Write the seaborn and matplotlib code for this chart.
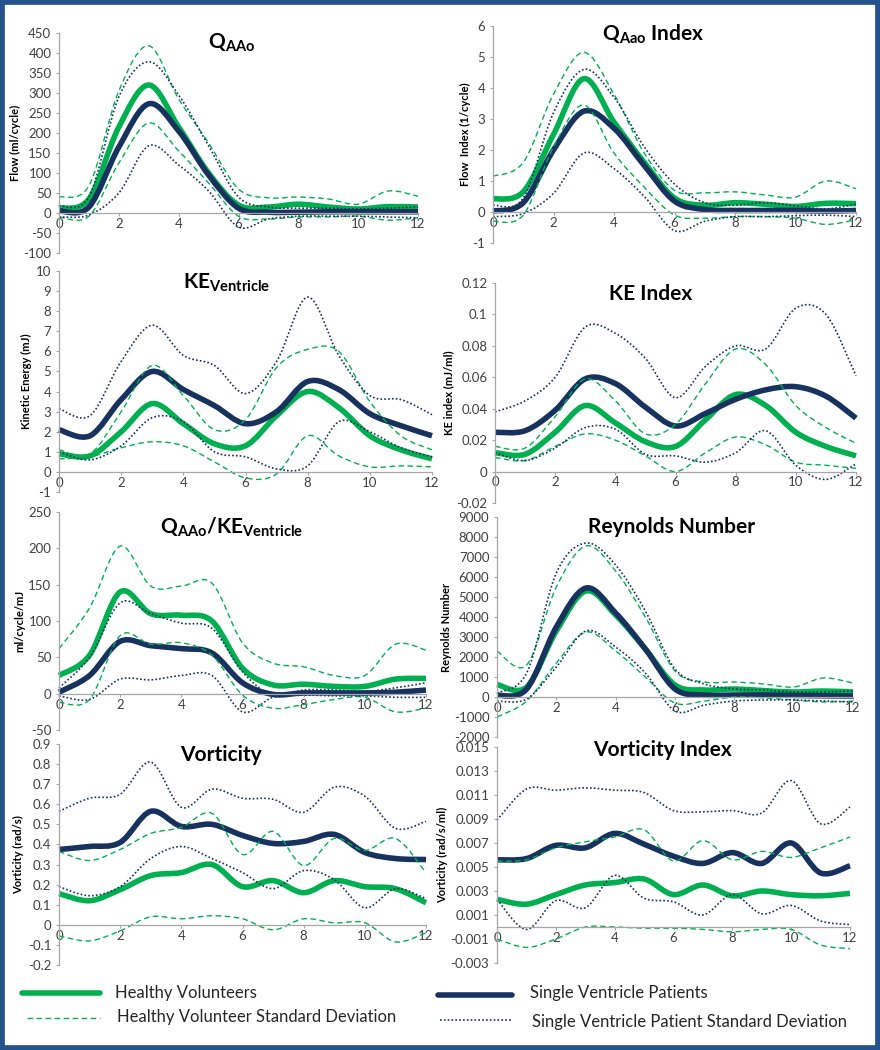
import numpy as np
import matplotlib
matplotlib.use("Agg")
import matplotlib.pyplot as plt
import seaborn as sns
from matplotlib.path import Path
from matplotlib.patches import PathPatch, Rectangle
from matplotlib.lines import Line2D

# Setup
sns.set_theme(style="white")
plt.rcParams["font.family"] = ["Lato", "DejaVu Sans"]
plt.rcParams["mathtext.fontset"] = "custom"
plt.rcParams["mathtext.rm"] = "Lato"
plt.rcParams["mathtext.bf"] = "Lato:bold"
plt.rcParams["mathtext.it"] = "Lato:italic"

GREEN = "#00B050"
NAVY = "#17325E"
BORDER = "#25548C"
AXIS_GRAY = "#A6A6A6"
TEXT_GRAY = "#404040"

W, H = 880, 1050
time = list(range(13))

# --------- DATA (one value per time step) ---------

# Q_AAo
qaao_hv = [12, 35, 215, 320, 215, 100, 20, 15, 22, 15, 10, 16, 15]
qaao_hv_hi = [40, 68, 305, 418, 285, 175, 60, 38, 40, 35, 22, 55, 42]
qaao_hv_lo = [-10, -8, 125, 225, 155, 75, -8, -15, -10, -10, -8, -18, -12]
qaao_sv = [5, 15, 165, 273, 205, 95, 12, 2, 2, 3, 3, 3, 3]
qaao_sv_hi = [18, 40, 290, 378, 295, 168, 40, 15, 12, 12, 10, 12, 15]
qaao_sv_lo = [-10, -5, 50, 168, 120, 55, -35, -15, -8, -8, -8, -10, -12]

# Q_Aao index
qidx_hv = [0.42, 0.65, 2.5, 4.3, 2.9, 1.6, 0.45, 0.22, 0.3, 0.25, 0.18, 0.28, 0.27]
qidx_hv_hi = [1.15, 1.6, 3.8, 5.15, 3.8, 1.9, 0.7, 0.62, 0.65, 0.55, 0.48, 1.0, 0.75]
qidx_hv_lo = [-0.3, -0.1, 2.1, 3.45, 1.9, 0.8, -0.1, -0.2, -0.15, -0.15, -0.2, -0.4, -0.25]
qidx_sv = [0.03, 0.3, 2.0, 3.25, 2.7, 1.5, 0.35, 0.08, 0.05, 0.05, 0.05, 0.03, 0.05]
qidx_sv_hi = [0.22, 0.45, 3.2, 4.6, 3.7, 2.1, 0.9, 0.3, 0.22, 0.3, 0.2, 0.1, 0.25]
qidx_sv_lo = [-0.15, -0.05, 0.6, 1.9, 1.4, 0.5, -0.6, -0.3, -0.15, -0.15, -0.12, -0.1, -0.15]

# KE ventricle
ke_hv = [0.9, 0.8, 2.0, 3.4, 2.4, 1.4, 1.3, 2.8, 4.0, 3.2, 1.8, 1.1, 0.65]
ke_hv_hi = [1.1, 0.9, 3.0, 5.3, 3.8, 2.1, 2.6, 5.2, 6.1, 6.0, 3.5, 1.8, 1.1]
ke_hv_lo = [0.65, 0.75, 1.2, 1.5, 1.3, 0.5, -0.3, -0.1, 1.8, 0.8, 0.25, 0.3, 0.25]
ke_sv = [2.1, 1.8, 3.6, 5.0, 4.1, 3.3, 2.4, 3.0, 4.5, 4.1, 2.9, 2.3, 1.8]
ke_sv_hi = [3.15, 2.8, 5.5, 7.3, 5.8, 5.3, 3.9, 5.5, 8.7, 5.8, 3.8, 3.6, 2.85]
ke_sv_lo = [1.0, 0.6, 1.3, 2.7, 2.5, 1.0, 0.75, 0.15, 0.3, 2.5, 2.0, 1.2, 0.75]

# KE index
kei_hv = [0.012, 0.011, 0.025, 0.042, 0.031, 0.019, 0.016, 0.033, 0.049, 0.042, 0.025, 0.016, 0.010]
kei_hv_hi = [0.016, 0.015, 0.035, 0.059, 0.045, 0.024, 0.030, 0.056, 0.078, 0.068, 0.042, 0.028, 0.018]
kei_hv_lo = [0.009, 0.007, 0.016, 0.024, 0.020, 0.010, 0.000, 0.012, 0.022, 0.017, 0.006, 0.004, 0.002]
kei_sv = [0.025, 0.026, 0.039, 0.059, 0.056, 0.041, 0.029, 0.037, 0.046, 0.052, 0.054, 0.048, 0.034]
kei_sv_hi = [0.038, 0.045, 0.060, 0.092, 0.088, 0.072, 0.047, 0.067, 0.080, 0.078, 0.104, 0.100, 0.061]
kei_sv_lo = [0.012, 0.007, 0.015, 0.028, 0.027, 0.011, 0.010, 0.006, 0.012, 0.026, 0.004, -0.005, 0.005]

# Q_AAo / KE_Ventricle
qke_hv = [25, 53, 140, 110, 108, 100, 35, 12, 13, 10, 10, 20, 21]
qke_hv_hi = [62, 118, 203, 148, 148, 152, 70, 42, 37, 25, 25, 68, 60]
qke_hv_lo = [-12, -8, 80, 68, 70, 53, -2, -20, -15, -8, -5, -25, -20]
qke_sv = [2, 25, 72, 66, 62, 56, 15, -1, 1, 1, 1, 2, 5]
qke_sv_hi = [8, 50, 125, 110, 97, 90, 30, -3, 5, 5, 3, 8, 15]
qke_sv_lo = [-3, -8, 20, 19, 25, 25, -25, -5, -2, -3, -3, -5, -5]

# Reynolds number
re_hv = [620, 500, 3300, 5300, 4100, 2400, 600, 350, 400, 320, 250, 300, 250]
re_hv_hi = [2300, 1600, 5500, 7550, 6300, 4000, 1300, 750, 750, 650, 500, 950, 700]
re_hv_lo = [-1000, -200, 1700, 3250, 2300, 1000, -300, -200, 0, -50, -150, -250, -200]
re_sv = [80, 400, 3500, 5450, 4200, 2400, 400, 100, 100, 100, 80, 60, 50]
re_sv_hi = [200, 1200, 6200, 7700, 6600, 4300, 1400, 650, 400, 350, 250, 250, 300]
re_sv_lo = [-200, -100, 1500, 3300, 2500, 1200, -700, -400, -200, -150, -150, -200, -250]

# Vorticity
vort_hv = [0.155, 0.12, 0.175, 0.245, 0.26, 0.30, 0.19, 0.22, 0.16, 0.22, 0.19, 0.18, 0.11]
vort_hv_hi = [0.365, 0.32, 0.375, 0.455, 0.485, 0.555, 0.35, 0.465, 0.295, 0.43, 0.37, 0.43, 0.26]
vort_hv_lo = [-0.055, -0.08, -0.03, 0.04, 0.03, 0.045, 0.03, -0.025, 0.03, 0.01, 0.01, -0.085, -0.04]
vort_sv = [0.375, 0.39, 0.41, 0.565, 0.49, 0.50, 0.445, 0.405, 0.415, 0.45, 0.36, 0.33, 0.325]
vort_sv_hi = [0.565, 0.63, 0.65, 0.81, 0.585, 0.675, 0.63, 0.625, 0.56, 0.685, 0.64, 0.48, 0.515]
vort_sv_lo = [0.19, 0.145, 0.19, 0.33, 0.39, 0.33, 0.26, 0.18, 0.27, 0.225, 0.085, 0.18, 0.13]

# Vorticity index
vidx_hv = [0.0023, 0.0019, 0.0027, 0.0035, 0.0037, 0.0040, 0.0027, 0.0035, 0.0026, 0.0030, 0.0027, 0.0026, 0.0028]
vidx_hv_hi = [0.0055, 0.0056, 0.0066, 0.0071, 0.0075, 0.0081, 0.0055, 0.0072, 0.0056, 0.0063, 0.0058, 0.0066, 0.0075]
vidx_hv_lo = [-0.0010, -0.0017, -0.0010, 0.0, 0.0, -0.0001, -0.0001, -0.0002, -0.0004, -0.0002, -0.0002, -0.0015, -0.0018]
vidx_sv = [0.0056, 0.0057, 0.0068, 0.0066, 0.0078, 0.0069, 0.0059, 0.0053, 0.0062, 0.0053, 0.0070, 0.0045, 0.0051]
vidx_sv_hi = [0.0089, 0.0115, 0.0114, 0.0116, 0.0114, 0.0112, 0.0097, 0.0096, 0.0097, 0.0095, 0.0122, 0.0086, 0.0100]
vidx_sv_lo = [0.0023, -0.0002, 0.0022, 0.0016, 0.0043, 0.0024, 0.0021, 0.0010, 0.0027, 0.0011, 0.0018, 0.0005, 0.0002]

# --------- PANEL LAYOUT ---------
# box = (left, top, right, bottom) of the plot area in pixels
panels = [
    dict(title=r"$\mathbf{Q_{AAo}}$", ylabel="Flow (ml/cycle)",
         ylim=(-100, 450), ystep=50, box=(59, 33, 418, 253), tpos=(0.48, 0.955), lx=15,
         data=(qaao_hv, qaao_hv_hi, qaao_hv_lo, qaao_sv, qaao_sv_hi, qaao_sv_lo)),
    dict(title=r"$\mathbf{Q_{Aao}}$ Index", ylabel="Flow  Index (1/cycle)",
         ylim=(-1, 6), ystep=1, box=(493, 26, 856, 243), tpos=(0.44, 0.96), lx=465,
         data=(qidx_hv, qidx_hv_hi, qidx_hv_lo, qidx_sv, qidx_sv_hi, qidx_sv_lo)),
    dict(title=r"$\mathbf{KE_{Ventricle}}$", ylabel="Kinetic Energy (mJ)",
         ylim=(-1, 10), ystep=1, box=(59, 271, 432, 492), tpos=(0.45, 0.945), lx=26,
         data=(ke_hv, ke_hv_hi, ke_hv_lo, ke_sv, ke_sv_hi, ke_sv_lo)),
    dict(title="KE Index", ylabel="KE index (mJ/ml)",
         ylim=(-0.02, 0.12), ystep=0.02, box=(495, 283, 856, 503), tpos=(0.43, 0.95), lx=449,
         data=(kei_hv, kei_hv_hi, kei_hv_lo, kei_sv, kei_sv_hi, kei_sv_lo)),
    dict(title=r"$\mathbf{Q_{AAo}/KE_{Ventricle}}$", ylabel="ml/cycle/mJ",
         ylim=(-50, 250), ystep=50, box=(59, 512, 426, 730), tpos=(0.47, 0.93), lx=20,
         data=(qke_hv, qke_hv_hi, qke_hv_lo, qke_sv, qke_sv_hi, qke_sv_lo)),
    dict(title="Reynolds Number", ylabel="Reynolds Number",
         ylim=(-2000, 9000), ystep=1000, box=(497, 517, 853, 737), tpos=(0.49, 0.955), lx=446,
         data=(re_hv, re_hv_hi, re_hv_lo, re_sv, re_sv_hi, re_sv_lo)),
    dict(title="Vorticity", ylabel="Vorticity (rad/s)",
         ylim=(-0.2, 0.9), ystep=0.1, box=(59, 744, 426, 965), tpos=(0.44, 0.95), lx=19,
         data=(vort_hv, vort_hv_hi, vort_hv_lo, vort_sv, vort_sv_hi, vort_sv_lo)),
    dict(title="Vorticity Index", ylabel="Vorticity (rad/s/ml)",
         ylim=(-0.003, 0.015), ystep=0.002, box=(497, 747, 850, 963), tpos=(0.47, 0.985), lx=443,
         data=(vidx_hv, vidx_hv_hi, vidx_hv_lo, vidx_sv, vidx_sv_hi, vidx_sv_lo)),
]

styles = [
    dict(color=GREEN, lw=4.0, ls="-"),
    dict(color=GREEN, lw=1.0, ls=(0, (4, 2.5))),
    dict(color=GREEN, lw=1.0, ls=(0, (4, 2.5))),
    dict(color=NAVY, lw=4.0, ls="-"),
    dict(color=NAVY, lw=1.2, ls=(0, (1, 1.3))),
    dict(color=NAVY, lw=1.2, ls=(0, (1, 1.3))),
]
draw_order = [0, 3, 1, 2, 4, 5]


def smooth_path(x, y):
    # Excel-style smoothed line: cubic Bezier segments through the data points
    x = np.asarray(x, float)
    y = np.asarray(y, float)
    px = np.concatenate([[x[0]], x, [x[-1]]])
    py = np.concatenate([[y[0]], y, [y[-1]]])
    verts = [(x[0], y[0])]
    codes = [Path.MOVETO]
    for i in range(1, len(x)):
        c1 = (px[i] + (px[i + 1] - px[i - 1]) / 6, py[i] + (py[i + 1] - py[i - 1]) / 6)
        c2 = (px[i + 1] - (px[i + 2] - px[i]) / 6, py[i + 1] - (py[i + 2] - py[i]) / 6)
        verts += [c1, c2, (px[i + 1], py[i + 1])]
        codes += [Path.CURVE4] * 3
    return Path(verts, codes)


fig = plt.figure(figsize=(W / 100, H / 100), dpi=100)
fig.patch.set_facecolor("white")

for p in panels:
    l, t, r, b = p["box"]
    ax = fig.add_axes([l / W, 1 - b / H, (r - l) / W, (b - t) / H])
    ax.patch.set_alpha(0)

    for k in draw_order:
        st = styles[k]
        patch = PathPatch(smooth_path(time, p["data"][k]), fill=False, edgecolor=st["color"],
                          linewidth=st["lw"], linestyle=st["ls"],
                          capstyle="butt", joinstyle="round", clip_on=False)
        ax.add_patch(patch)

    lo, hi = p["ylim"]
    n = int(round((hi - lo) / p["ystep"]))
    yt = [round(lo + i * p["ystep"], 6) for i in range(n + 1)]
    ax.set_xlim(0, 12)
    ax.set_ylim(lo, hi)
    ax.set_xticks(range(0, 13, 2))
    ax.set_yticks(yt)
    ax.set_yticklabels([f"{v:g}" for v in yt])

    sns.despine(ax=ax, top=True, right=True)
    ax.spines["bottom"].set_position(("data", 0))
    for s in ["left", "bottom"]:
        ax.spines[s].set_color(AXIS_GRAY)
        ax.spines[s].set_linewidth(0.9)
    ax.tick_params(axis="both", which="major", direction="out", length=2.5, width=0.8,
                   color=AXIS_GRAY, labelcolor=TEXT_GRAY, labelsize=9.5, pad=3,
                   left=True, bottom=True)
    ax.tick_params(axis="x", pad=1)

    ax.text(p["tpos"][0], p["tpos"][1], p["title"], transform=ax.transAxes,
            ha="center", va="center", fontsize=15, fontweight="bold", color="black")
    fig.text(p["lx"] / W, 1 - (t + b) / 2 / H, p["ylabel"], rotation=90,
             ha="center", va="center", fontsize=8, fontweight="bold", color="black")

# --------- LEGEND ---------
legend_items = [
    ("Healthy Volunteers", styles[0], (22, 100, 993), (115, 993)),
    ("Healthy Volunteer Standard Deviation", styles[1], (27, 100, 1018), (117, 1017)),
    ("Single Ventricle Patients", styles[3], (438, 512, 995), (530, 993)),
    ("Single Ventricle Patient Standard Deviation", styles[4], (440, 512, 1020), (532, 1022)),
]
for label, st, (x0, x1, ly), (tx, ty) in legend_items:
    fig.add_artist(Line2D([x0 / W, x1 / W], [1 - ly / H, 1 - ly / H], transform=fig.transFigure,
                          color=st["color"], linewidth=st["lw"], linestyle=st["ls"]))
    fig.text(tx / W, 1 - ty / H, label, ha="left", va="center", fontsize=12, color="#262626")

# outer frame
fig.add_artist(Rectangle((0, 0), 1, 1, transform=fig.transFigure, fill=False,
                         edgecolor=BORDER, linewidth=7))

fig.savefig("out.png", dpi=100)
plt.close(fig)
